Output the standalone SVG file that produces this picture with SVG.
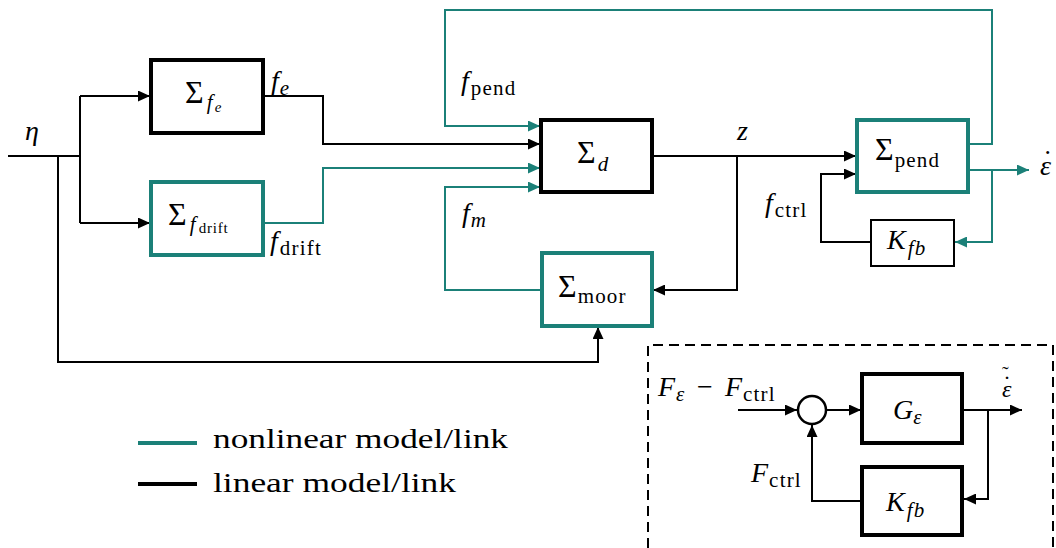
<svg xmlns="http://www.w3.org/2000/svg" width="1056" height="548" viewBox="0 0 1056 548" font-family="'Liberation Serif', serif">
<style>
.b{fill:none;stroke:#000;stroke-width:2}
.t{fill:none;stroke:#1b8078;stroke-width:2}
.nb{fill:#fff;stroke:#000;stroke-width:4}
.nt{fill:#fff;stroke:#1b8078;stroke-width:4}
.nk{fill:#fff;stroke:#000;stroke-width:2}
text{font-family:"Liberation Serif",serif;fill:#000}
.i{font-style:italic}
.L{font-size:32px}
.M{font-size:28px}
.S{font-size:21px;letter-spacing:1.2px}
.X{font-size:15px;letter-spacing:0.8px}
</style>
<defs>
<marker id="ab" markerUnits="userSpaceOnUse" markerWidth="12" markerHeight="11" refX="12" refY="5.5" orient="auto"><path d="M0,0L12,5.5L0,11z" fill="#000"/></marker>
<marker id="at" markerUnits="userSpaceOnUse" markerWidth="12" markerHeight="11" refX="12" refY="5.5" orient="auto"><path d="M0,0L12,5.5L0,11z" fill="#1b8078"/></marker>
</defs>
<g id="connectors">
<path class="b" d="M8,156H80"/>
<path class="b" d="M58,156V362H598V327" marker-end="url(#ab)"/>
<path class="b" d="M80,96V223"/>
<path class="b" d="M80,96H150" marker-end="url(#ab)"/>
<path class="b" d="M80,223H150" marker-end="url(#ab)"/>
<path class="b" d="M263,96H323V144H540" marker-end="url(#ab)"/>
<path class="t" d="M263,223H323V168H540" marker-end="url(#at)"/>
<path class="t" d="M968,144H992V10H445V126H540" marker-end="url(#at)"/>
<path class="t" d="M541,290H445V187H540" marker-end="url(#at)"/>
<path class="b" d="M652,156H856" marker-end="url(#ab)"/>
<path class="b" d="M737,156V290H653" marker-end="url(#ab)"/>
<path class="b" d="M871,242H821V174H856" marker-end="url(#ab)"/>
<path class="t" d="M968,170H1029" marker-end="url(#at)"/>
<path class="t" d="M992,170V242H955" marker-end="url(#at)"/>
<path class="b" d="M738,410H797" marker-end="url(#ab)"/>
<path class="b" d="M826,410H861" marker-end="url(#ab)"/>
<path class="b" d="M962,410H1022" marker-end="url(#ab)"/>
<path class="b" d="M988,410V499H964" marker-end="url(#ab)"/>
<path class="b" d="M862,501H812V425" marker-end="url(#ab)"/>
</g>
<g id="inset-frame"><path d="M648,548V345H1053V548" fill="none" stroke="#000" stroke-width="2" stroke-dasharray="10,6"/></g>
<g id="labels">
<text x="25" y="140" class="M i">η</text>
<text x="271" y="90" class="M"><tspan class="i">f</tspan><tspan class="S i" dx="1" dy="5">e</tspan></text>
<text x="270" y="250" class="M"><tspan class="i">f</tspan><tspan class="S" dx="2" dy="5">drift</tspan></text>
<text x="461" y="90" class="M"><tspan class="i">f</tspan><tspan class="S" dx="2" dy="5">pend</tspan></text>
<text x="462" y="222" class="M"><tspan class="i">f</tspan><tspan class="S i" dx="1" dy="5">m</tspan></text>
<text x="737" y="140" class="M i">z</text>
<text x="765" y="212" class="M"><tspan class="i">f</tspan><tspan class="S" dx="2" dy="5">ctrl</tspan></text>
<text x="1040" y="175" class="M"><tspan class="i">ε</tspan><tspan dx="-8" dy="-6">˙</tspan></text>
<text x="658" y="396" class="M"><tspan class="i">F</tspan><tspan class="S i" x="676" dy="5">ε</tspan><tspan x="697" dy="-5">−</tspan><tspan class="i" x="725">F</tspan><tspan class="S" x="743" dy="5">ctrl</tspan></text>
<text x="751" y="482" class="M"><tspan class="i">F</tspan><tspan class="S" dx="1" dy="5">ctrl</tspan></text>
<text x="1002" y="397" font-size="24"><tspan class="i">ε</tspan><tspan x="1003" dy="-5">˙</tspan><tspan x="1002" dy="-11" font-size="20">˜</tspan></text>
</g>
<g id="sigma-fe"><rect class="nb" x="151" y="60" width="112" height="73"/><text x="185" y="103"><tspan class="L">Σ</tspan><tspan class="S i" dx="3" dy="6">f</tspan><tspan class="X i" dx="1" dy="3">e</tspan></text></g>
<g id="sigma-fdrift"><rect class="nt" x="151" y="182" width="112" height="73"/><text x="168" y="225"><tspan class="L">Σ</tspan><tspan class="S i" dx="3" dy="6">f</tspan><tspan class="X" dx="2" dy="2">drift</tspan></text></g>
<g id="sigma-d"><rect class="nb" x="541" y="120" width="111" height="72"/><text x="577" y="163"><tspan class="L">Σ</tspan><tspan class="S i" dx="2" dy="8">d</tspan></text></g>
<g id="sigma-pend"><rect class="nt" x="857" y="120" width="111" height="72"/><text x="875" y="160"><tspan class="L">Σ</tspan><tspan class="S" dx="1" dy="7">pend</tspan></text></g>
<g id="sigma-moor"><rect class="nt" x="542" y="253" width="110" height="73"/><text x="558" y="297"><tspan class="L">Σ</tspan><tspan class="S" dx="1" dy="6">moor</tspan></text></g>
<g id="kfb"><rect class="nk" x="871" y="220" width="83" height="46"/><text x="887" y="249"><tspan class="M i">K</tspan><tspan class="S i" dx="2" dy="6">fb</tspan></text></g>
<g id="sum"><circle cx="812" cy="410" r="14" fill="#fff" stroke="#000" stroke-width="2.5"/></g>
<g id="g-eps"><rect class="nb" x="862" y="374" width="100" height="69"/><text x="893" y="419"><tspan class="M i">G</tspan><tspan class="S i" dy="5">ε</tspan></text></g>
<g id="kfb-inset"><rect class="nb" x="862" y="467" width="100" height="68"/><text x="886" y="511"><tspan class="M i">K</tspan><tspan class="S i" dx="2" dy="6">fb</tspan></text></g>
<g id="legend">
<path d="M138,443H197" stroke="#1b8078" stroke-width="4"/>
<path d="M138,484H197" stroke="#000" stroke-width="4"/>
<text x="213" y="448" font-size="28" textLength="295" lengthAdjust="spacingAndGlyphs">nonlinear model/link</text>
<text x="213" y="492" font-size="28" textLength="243" lengthAdjust="spacingAndGlyphs">linear model/link</text>
</g>
</svg>
